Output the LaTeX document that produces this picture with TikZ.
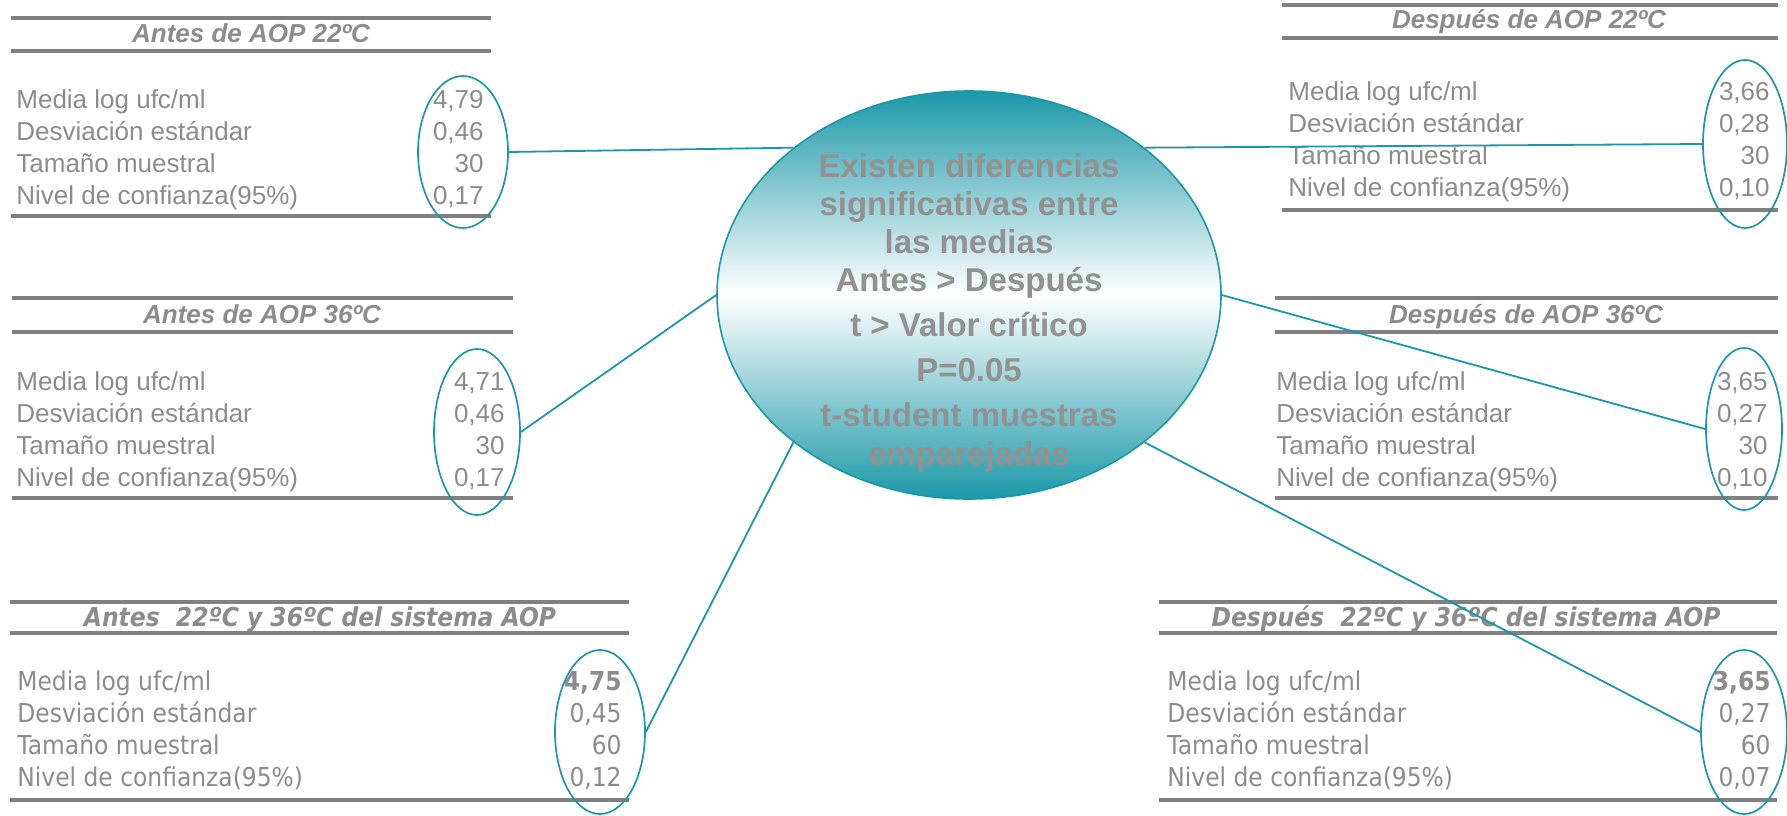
\documentclass[tikz,border=0pt]{standalone}
\usepackage{fontspec}
\setmainfont{Liberation Sans}
\newfontfamily\tahoma[FakeStretch=0.9]{DejaVu Sans}
\usepackage{xcolor}
\usetikzlibrary{shapes.geometric}
\definecolor{turquesa}{RGB}{27,152,168}
\definecolor{grisT}{RGB}{140,140,140}
\definecolor{grisR}{RGB}{128,128,128}
\definecolor{grisC}{RGB}{145,145,145}
% four rows of one table: name, x labels, x values, first baseline, values
\newcommand{\filas}[8]{%
\node[etiq] (#1a) at (#2,#4) {Media log ufc/ml};
\node[etiq] (#1b) at (#2,#4+32) {Desviación estándar};
\node[etiq] (#1c) at (#2,#4+64) {Tamaño muestral};
\node[etiq] (#1d) at (#2,#4+96) {Nivel de confianza(95\%)};
\node[cifra] (#1e) at (#3,#4) {#5};
\node[cifra] (#1f) at (#3,#4+32) {#6};
\node[cifra] (#1g) at (#3,#4+64) {#7};
\node[cifra] (#1h) at (#3,#4+96) {#8};}

\begin{document}
\begin{tikzpicture}
[x=0.5pt,y=-0.5pt,
fuente/.style={font=\fontsize{13}{16}\selectfont},
titfuente/.style={font=\fontsize{13}{16}\selectfont\bfseries\itshape},
etiq/.style={fuente,text=grisT,anchor=base west,inner sep=0pt},
cifra/.style={fuente,text=grisT,anchor=base east,inner sep=0pt},
titulo/.style={titfuente,text=grisT,anchor=base,inner sep=0pt},
regla/.style={draw=grisR,line width=1.6pt},
reglab/.style={draw=grisR,line width=2pt},
valor/.style={ellipse,draw=turquesa,line width=0.85pt,inner sep=0pt},
enlace/.style={draw=turquesa,line width=0.9pt},
centro/.style={ellipse,draw=turquesa,line width=0.8pt,inner sep=0pt,
  top color=turquesa,bottom color=turquesa,middle color=white},
texto/.style={align=center,text=grisC,inner sep=0pt,
  font=\fontsize{16.5}{19}\selectfont\bfseries}]
\path[use as bounding box,fill=white] (0,0) rectangle (1787,815);

% left column
\draw[regla] (11,18) -- (491,18) (11,51) -- (491,51);
\draw[reglab] (11,216) -- (491,216);
\node[titulo] (t1) at (251,42) {Antes de AOP 22ºC};
\filas{p}{16}{484}{108}{4,79}{0,46}{30}{0,17}

\draw[regla] (12,298) -- (513,298) (12,332) -- (513,332);
\draw[reglab] (12,498) -- (513,498);
\node[titulo] (t2) at (262,323) {Antes de AOP 36ºC};
\filas{q}{16}{505}{390}{4,71}{0,46}{30}{0,17}

\begin{scope}[fuente/.style={font=\tahoma\fontsize{13}{16}\selectfont},
  titfuente/.style={font=\tahoma\fontsize{13}{16}\selectfont\bfseries\itshape}]
\draw[regla] (10,602) -- (629,602) (10,633) -- (629,633);
\draw[reglab] (10,800) -- (629,800);
\node[titulo] (t3) at (320,626) {Antes\ \ 22ºC y 36ºC del sistema AOP};
\filas{r}{17}{622}{690}{\textbf{4,75}}{0,45}{60}{0,12}
\end{scope}

% right column
\draw[regla] (1282,5) -- (1778,5) (1282,38) -- (1778,38);
\draw[reglab] (1282,210) -- (1778,210);
\node[titulo] (t4) at (1529,28) {Después de AOP 22ºC};
\filas{s}{1288}{1770}{100}{3,66}{0,28}{30}{0,10}

\draw[regla] (1275,298) -- (1778,298) (1275,332) -- (1778,332);
\draw[reglab] (1275,498) -- (1778,498);
\node[titulo] (t5) at (1526,323) {Después de AOP 36ºC};
\filas{u}{1276}{1768}{390}{3,65}{0,27}{30}{0,10}

\begin{scope}[fuente/.style={font=\tahoma\fontsize{13}{16}\selectfont},
  titfuente/.style={font=\tahoma\fontsize{13}{16}\selectfont\bfseries\itshape}]
\draw[regla] (1159,602) -- (1777,602) (1159,633) -- (1777,633);
\draw[reglab] (1159,800) -- (1777,800);
\node[titulo] (t6) at (1466,626) {Después\ \ 22ºC y 36ºC del sistema AOP};
\filas{w}{1167}{1771}{690}{\textbf{3,65}}{0,27}{60}{0,07}
\end{scope}

% circled values
\node[valor,minimum width=45pt,minimum height=76pt] (e1) at (463,152) {};
\node[valor,minimum width=43pt,minimum height=83pt] (e2) at (477,432) {};
\node[valor,minimum width=45pt,minimum height=82pt] (e3) at (600,732) {};
\node[valor,minimum width=42pt,minimum height=84pt] (e4) at (1745,144) {};
\node[valor,minimum width=38pt,minimum height=81pt] (e5) at (1744,429) {};
\node[valor,minimum width=43pt,minimum height=82pt] (e6) at (1744,732) {};

% centre
\node[centro,minimum width=252pt,minimum height=204pt] (c) at (969,295) {};
\node[texto] (ct) at (969,313) {Existen diferencias\\significativas entre\\las medias\\Antes > Después\\[3.5pt]t > Valor crítico\\[3.5pt]P=0.05\\[3.5pt]t-student muestras\\[0.5pt]emparejadas};

\draw[enlace] (e1.east) -- (c.140);
\draw[enlace] (e2.east) -- (c.180);
\draw[enlace] (e3.east) -- (c.220);
\draw[enlace] (c.40) -- (e4.west);
\draw[enlace] (c.0) -- (e5.west);
\draw[enlace] (c.320) -- (e6.west);
\end{tikzpicture}
\end{document}
